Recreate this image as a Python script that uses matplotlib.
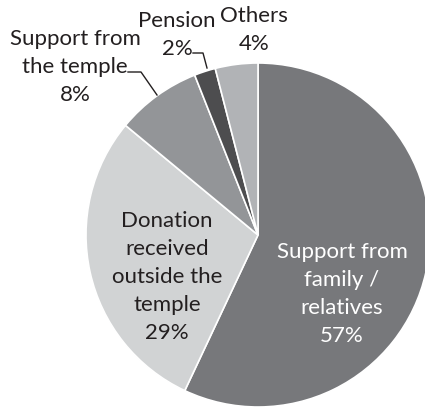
import matplotlib.pyplot as plt

plt.rcParams['font.family'] = ['Lato', 'DejaVu Sans']

labels = ['Support from\nfamily /\nrelatives', 'Donation\nreceived\noutside the\ntemple',
          'Support from\nthe temple', 'Pension', 'Others']
values = [57, 29, 8, 2, 4]
colors = ['#77787b', '#d1d3d4', '#939598', '#4d4d4f', '#b1b3b6']

W, H = 425, 408
fig = plt.figure(figsize=(W / 100, H / 100), dpi=100)
ax = fig.add_axes([0, 0, 1, 1])

cx, cy, r = 258, H - 235, 172
ax.pie(values, colors=colors, startangle=90, counterclock=False,
       center=(cx, cy), radius=r,
       wedgeprops=dict(edgecolor='white', linewidth=1.2))
ax.set_xlim(0, W)
ax.set_ylim(0, H)
ax.set_aspect('equal')
ax.axis('off')

txt = '#231f20'
fs = 16
ls = 1.5
# text labels (pixel positions from top-left)
ax.text(342, H - 294, labels[0] + '\n%d%%' % values[0], color='white', fontsize=fs,
        ha='center', va='center', linespacing=ls)
ax.text(167, H - 277, labels[1] + '\n%d%%' % values[1], color=txt, fontsize=fs,
        ha='center', va='center', linespacing=ls)
ax.text(75, H - 67, labels[2] + '\n%d%%' % values[2], color=txt, fontsize=fs,
        ha='center', va='center', linespacing=ls)
ax.text(177, H - 35, labels[3] + '\n%d%%' % values[3], color=txt, fontsize=fs,
        ha='center', va='center', linespacing=ls)
ax.text(254, H - 30, labels[4] + '\n%d%%' % values[4], color=txt, fontsize=fs,
        ha='center', va='center', linespacing=ls)

# leader lines
ax.plot([128, 141, 157], [H - 72, H - 72, H - 95], color=txt, lw=1)
ax.plot([193, 203, 207], [H - 53, H - 53, H - 68], color=txt, lw=1)

fig.savefig('out.png', dpi=100)
